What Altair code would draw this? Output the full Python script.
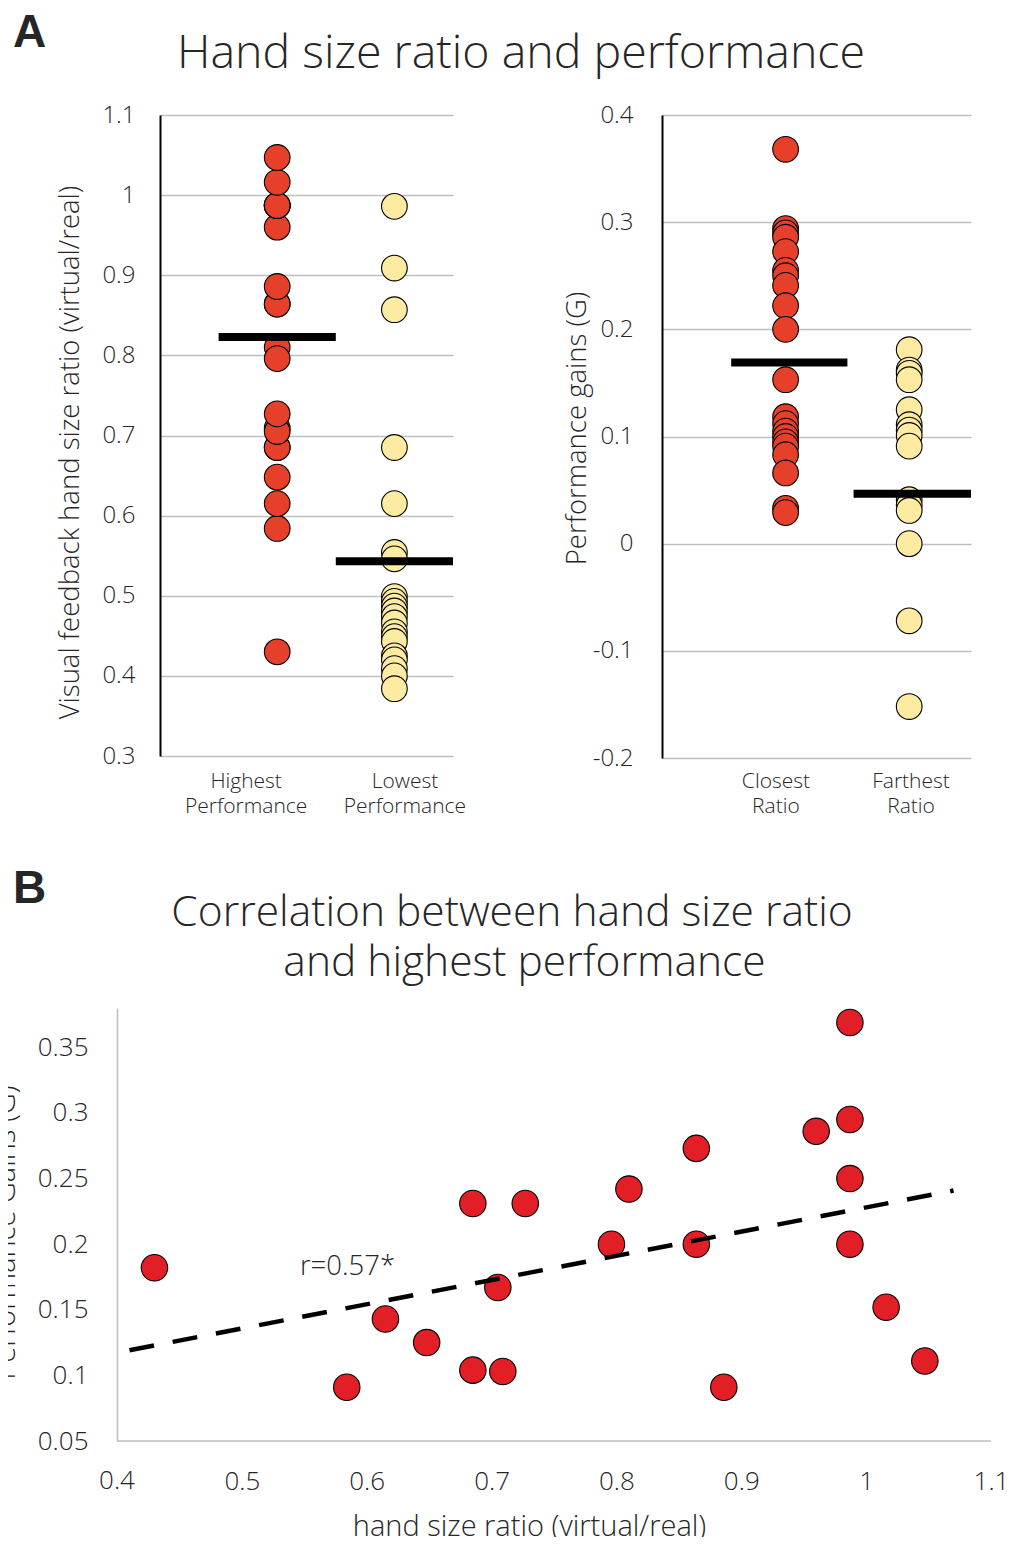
import altair as alt
import pandas as pd

# ---------------- data ----------------
# Panel B: hand size ratio vs performance gain (highest-performance trial)
hand_ratio = [0.430, 0.584, 0.615, 0.648, 0.685, 0.685, 0.709, 0.705, 0.727, 0.810, 0.796,
              0.864, 0.864, 0.960, 0.987, 0.987, 0.987, 0.987, 0.886, 1.016, 1.047]
perf_gain = [0.182, 0.091, 0.143, 0.125, 0.231, 0.104, 0.103, 0.167, 0.231, 0.242, 0.200,
             0.273, 0.200, 0.286, 0.369, 0.295, 0.250, 0.200, 0.091, 0.152, 0.111]

# Panel A left: hand size ratio for highest / lowest performance
highest_perf_ratio = hand_ratio
lowest_perf_ratio = [0.986, 0.909, 0.857, 0.685, 0.615, 0.554, 0.546, 0.499, 0.493, 0.487, 0.481,
                     0.474, 0.466, 0.455, 0.449, 0.443, 0.425, 0.420, 0.409, 0.400, 0.384]
ratio_means = [0.823, 0.543]
ratio_groups = ["Highest\nPerformance", "Lowest\nPerformance"]

# Panel A right: performance gains for closest / farthest ratio
closest_gain = [0.368, 0.294, 0.290, 0.286, 0.2725, 0.255, 0.250, 0.241, 0.222, 0.200, 0.153,
                0.1185, 0.112, 0.105, 0.100, 0.095, 0.091, 0.083, 0.066, 0.033, 0.029]
farthest_gain = [0.181, 0.162, 0.159, 0.153, 0.125, 0.111, 0.106, 0.101, 0.091, 0.041, 0.036,
                 0.031, 0.0, -0.072, -0.152]
gain_means = [0.169, 0.0465]
gain_groups = ["Closest\nRatio", "Farthest\nRatio"]

ticks_ratio = [0.3, 0.4, 0.5, 0.6, 0.7, 0.8, 0.9, 1.0, 1.1]
ticks_gain = [-0.2, -0.1, 0.0, 0.1, 0.2, 0.3, 0.4]
ticks_bx = [0.4, 0.5, 0.6, 0.7, 0.8, 0.9, 1.0, 1.1]
ticks_by = [0.05, 0.1, 0.15, 0.2, 0.25, 0.3, 0.35]

title_a = "Hand size ratio and performance"
title_b = ["Correlation between hand size ratio", "and highest performance"]
r_text = "r=0.57*"

# ---------------- style / layout ----------------
FONT = "Open Sans"
TXT = "#262626"
RED_A = "#E6402A"
YEL_A = "#FCEBA0"
RED_B = "#E21F26"
GRID = "#BFBFBF"
LBL = "replace(format(datum.value, '~g'), '\u2212', '-')"

group_pos = [1, 2]
bar_start_ratio, bar_end_ratio = [0.5, 1.5], [1.5, 2.5]
bar_start_gain, bar_end_gain = [0.56, 1.55], [1.5, 2.5]
label_pos_ratio = [0.735, 2.09]
label_pos_gain = [0.922, 2.015]


def anchor(x1, x2, y1, y2):
    return alt.Chart(pd.DataFrame({"a": [0]})).mark_rect(opacity=0, strokeWidth=0).encode(
        x=alt.value(x1), x2=alt.value(x2), y=alt.value(y1), y2=alt.value(y2))


def text_at(t, x, y, size, weight=300, font=FONT, align="center"):
    return alt.Chart(pd.DataFrame({"t": [t]})).mark_text(
        fontSize=size, font=font, fontWeight=weight, color=TXT, align=align,
        baseline="alphabetic").encode(x=alt.value(x), y=alt.value(y), text="t:N")


def y_axis(values, title, pad, tx, ty):
    return alt.Axis(values=values, labelExpr=LBL, grid=True, gridColor=GRID, gridWidth=1.3,
                    domain=True, domainColor="black", domainWidth=2, ticks=False, tickSize=0,
                    labelPadding=pad, labelFont=FONT, labelFontSize=24, labelFontWeight=300,
                    labelColor=TXT, title=title, titleFont=FONT, titleFontSize=27.5,
                    titleFontWeight=300, titleColor=TXT, titleAngle=270, titleX=tx, titleY=ty,
                    titleAlign="center", titleBaseline="alphabetic")


def dot_panel(a_vals, b_vals, means, groups, bstart, bend, lpos, ydom, yticks, ytitle,
              lpad, tx, ty):
    xs = alt.Scale(domain=[0, 2.5])
    df = pd.DataFrame({
        "pos": [group_pos[0]] * len(a_vals) + [group_pos[1]] * len(b_vals),
        "val": list(a_vals) + list(b_vals),
        "grp": ["a"] * len(a_vals) + ["b"] * len(b_vals),
    })
    dots = alt.Chart(df).mark_point(filled=True, size=660, stroke="black", strokeWidth=1.1,
                                    opacity=1, shape="circle").encode(
        x=alt.X("pos:Q", scale=xs, axis=None),
        y=alt.Y("val:Q", scale=alt.Scale(domain=ydom, nice=False, zero=False),
                axis=y_axis(yticks, ytitle, lpad, tx, ty)),
        fill=alt.Fill("grp:N", scale=alt.Scale(domain=["a", "b"], range=[RED_A, YEL_A]),
                      legend=None),
    )
    mdf = pd.DataFrame({"m": means, "s": bstart, "e": bend})
    bars = alt.Chart(mdf).mark_rule(color="black", strokeWidth=8, strokeCap="butt").encode(
        x=alt.X("s:Q", scale=xs), x2="e:Q", y="m:Q")
    ldf = pd.DataFrame({"lab": groups, "lx": lpos})
    labels = alt.Chart(ldf).mark_text(lineBreak="\n", font=FONT, fontSize=21, fontWeight=300,
                                      color=TXT, align="center", baseline="alphabetic",
                                      lineHeight=25).encode(
        x=alt.X("lx:Q", scale=xs), y=alt.value(673), text="lab:N")
    return dots, bars, labels


# ---------------- Panel A left (with panel letter and title) ----------------
dA, bA, lA = dot_panel(highest_perf_ratio, lowest_perf_ratio, ratio_means, ratio_groups,
                       bar_start_ratio, bar_end_ratio, label_pos_ratio, [0.3, 1.1], ticks_ratio,
                       "Visual feedback hand size ratio (virtual/real)", 25, -82, 337)
panel_a1 = alt.layer(
    anchor(-190, 350, -115, 725), dA, bA, lA,
    text_at("A", -147, -68, 46, weight="bold", font="Liberation Sans", align="left"),
    text_at(title_a, 361, -47, 46.5),
).properties(width=293, height=641)

# ---------------- Panel A right ----------------
dG, bG, lG = dot_panel(closest_gain, farthest_gain, gain_means, gain_groups,
                       bar_start_gain, bar_end_gain, label_pos_gain, [-0.2, 0.4], ticks_gain,
                       "Performance gains (G)", 29, -77, 313)
panel_a2 = alt.layer(dG, bG, lG).properties(width=309, height=643)

# ---------------- Panel B ----------------
bdf = pd.DataFrame({"ratio": hand_ratio, "gain": perf_gain})
bx = alt.Scale(domain=[0.43444, 1.1], nice=False, zero=False)
by = alt.Scale(domain=[0.05, 0.38], nice=False, zero=False)
pts = alt.Chart(bdf).mark_point(filled=True, size=700, fill=RED_B, stroke="black",
                                strokeWidth=1.1, opacity=1, shape="circle").encode(
    x=alt.X("ratio:Q", scale=bx, axis=alt.Axis(
        values=ticks_bx, labelExpr=LBL, grid=False, domain=False, labelFlush=False,
        ticks=False, tickSize=0, labelPadding=27, labelFont=FONT, labelFontSize=26,
        labelFontWeight=300, labelColor=TXT, title="hand size ratio (virtual/real)",
        titleFont=FONT, titleFontSize=29, titleFontWeight=300, titleColor=TXT,
        titleX=369, titleY=94, titleAlign="center", titleBaseline="alphabetic")),
    y=alt.Y("gain:Q", scale=by, axis=alt.Axis(
        values=ticks_by, labelExpr=LBL, grid=False, domainColor=GRID, domainWidth=1.5,
        ticks=False, tickSize=0, offset=43, labelPadding=29, labelFont=FONT, labelFontSize=26,
        labelFontWeight=300, labelColor=TXT, title="Performance Gains (G)",
        titleFont=FONT, titleFontSize=29, titleFontWeight=300, titleColor=TXT,
        titleAngle=270, titleX=-103, titleY=224, titleAlign="center",
        titleBaseline="alphabetic")),
)
# x-axis line and the first tick label, which lies left of the plotted x range
xline = alt.Chart(pd.DataFrame({"a": [ticks_bx[0]], "b": [ticks_bx[-1]], "y": [ticks_by[0]]})
                  ).mark_rule(color=GRID, strokeWidth=1.5).encode(
    x=alt.X("a:Q", scale=bx), x2="b:Q", y=alt.Y("y:Q", scale=by))
first_tick = alt.Chart(pd.DataFrame({"v": [ticks_bx[0]], "lab": [f"{ticks_bx[0]:g}"]})
                       ).mark_text(font=FONT, fontSize=26, fontWeight=300, color=TXT,
                                   align="center", baseline="top").encode(
    x=alt.X("v:Q", scale=bx), y=alt.value(460), text="lab:N")
trend = alt.Chart(bdf).transform_regression("ratio", "gain", extent=[0.41, 1.07]).mark_line(
    color="black", strokeWidth=4.5, strokeDash=[25, 19], strokeCap="butt").encode(
    x=alt.X("ratio:Q", scale=bx), y=alt.Y("gain:Q", scale=by))
rlabel = alt.Chart(pd.DataFrame({"t": [r_text], "x": [0.5846], "y": [0.1767]})).mark_text(
    font=FONT, fontSize=27.5, fontWeight=300, color=TXT, align="center",
    baseline="alphabetic").encode(x=alt.X("x:Q", scale=bx), y=alt.Y("y:Q", scale=by), text="t:N")

panel_b = alt.layer(
    anchor(-190, 857, -168, 532), xline, first_tick, pts, trend, rlabel,
    text_at("B", -147, -105, 46, weight="bold", font="Liberation Sans", align="left"),
    text_at(title_b[0], 352, -82, 42.5),
    text_at(title_b[1], 364.5, -32, 42.5),
).properties(width=831, height=433)

chart = alt.vconcat(
    alt.hconcat(panel_a1, panel_a2, spacing=209, bounds="flush"),
    panel_b,
    spacing=0,
).properties(
    padding={"left": -38, "top": -8, "right": -4, "bottom": -4},
    background="white",
).configure_view(stroke=None)

chart.save("out.html", embed_options={"renderer": "svg", "actions": False})
